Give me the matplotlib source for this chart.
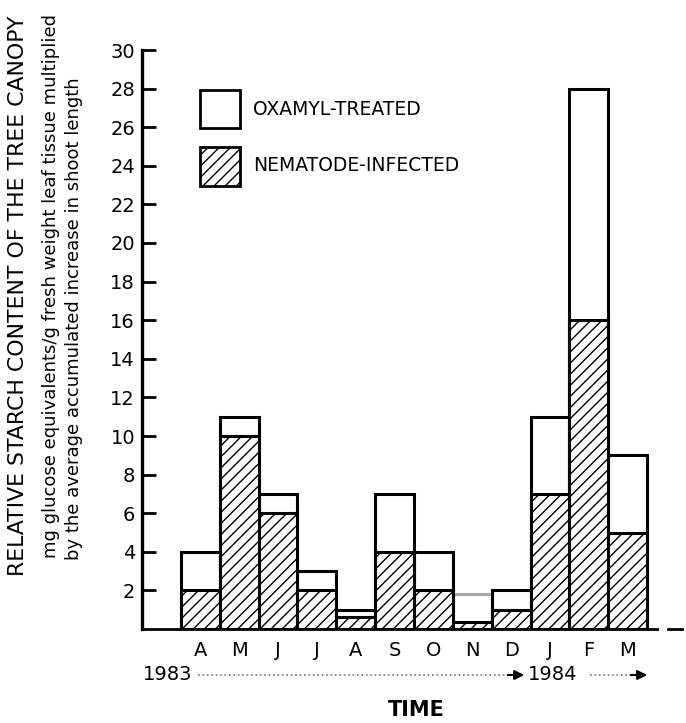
import numpy as np
import matplotlib.pyplot as plt
from matplotlib.patches import Rectangle
from matplotlib.lines import Line2D

plt.rcParams['font.family'] = ['DejaVu Sans']
plt.rcParams['hatch.linewidth'] = 1.0

# данные
months = ['A', 'M', 'J', 'J', 'A', 'S', 'O', 'N', 'D', 'J', 'F', 'M']
oxamyl = [4, 11, 7, 3, 1, 7, 4, 1.8, 2, 11, 28, 9]
nematode = [2, 10, 6, 2, 0.6, 4, 2, 0.35, 1, 7, 16, 5]
yticks = list(range(2, 31, 2))

W, H = 686, 723
fig = plt.figure(figsize=(W / 100, H / 100), dpi=100)
ax = fig.add_axes([142 / W, 1 - 629 / H, 544 / W, 579 / H])

x = np.arange(len(months))
edge = ['black'] * len(months)
edge[7] = '0.65'
ax.bar(x, oxamyl, width=1.0, align='edge', color='white',
       edgecolor=edge, linewidth=2.2, zorder=2)
ax.bar(x, nematode, width=1.0, align='edge', color='white',
       edgecolor='black', hatch='///', linewidth=2.2, zorder=3)

ax.set_xlim(-1, 13)
ax.set_ylim(0, 30)

for s in ['top', 'right', 'bottom']:
    ax.spines[s].set_visible(False)
ax.spines['left'].set_linewidth(2.4)

# базовая линия
ax.plot([-1, 12.26], [0, 0], color='black', lw=2.0, zorder=4, clip_on=False)
ax.plot([12.54, 12.9], [0, 0], color='black', lw=2.0, zorder=4, clip_on=False)

ax.set_yticks(yticks)
ax.set_yticklabels([str(v) for v in yticks], fontsize=14)
ax.tick_params(axis='y', direction='in', length=10, width=2.0, pad=5)

ax.set_xticks(x + 0.5)
ax.set_xticklabels(months, fontsize=14)
ax.tick_params(axis='x', length=0, pad=9)

# легенда
ax.add_patch(Rectangle((0.49, 25.96), 1.03, 1.95, facecolor='white',
                       edgecolor='black', lw=2.0, zorder=5))
ax.add_patch(Rectangle((0.49, 22.95), 1.03, 2.05, facecolor='white',
                       edgecolor='black', lw=2.0, hatch='///', zorder=5))
ax.text(1.85, 26.9, 'OXAMYL-TREATED', fontsize=13.5, va='center', ha='left')
ax.text(1.85, 24.0, 'NEMATODE-INFECTED', fontsize=13.5, va='center', ha='left')

# подписи оси Y
fig.text(18 / W, 1 - 296 / H, 'RELATIVE STARCH CONTENT OF THE TREE CANOPY',
         rotation=90, fontsize=15.8, ha='center', va='center')
fig.text(51 / W, 1 - 286 / H,
         'mg glucose equivalents/g fresh weight leaf tissue multiplied',
         rotation=90, fontsize=13, ha='center', va='center')
fig.text(74 / W, 1 - 319 / H,
         'by the average accumulated increase in shoot length',
         rotation=90, fontsize=13, ha='center', va='center')

# годы
yy = 1 - 675 / H
fig.text(168 / W, yy, '1983', fontsize=14, ha='center', va='center')
fig.text(553 / W, yy, '1984', fontsize=14, ha='center', va='center')
fig.add_artist(Line2D([198 / W, 515 / W], [yy, yy], color='0.45', lw=1.2,
                      ls=':', transform=fig.transFigure))
fig.add_artist(Line2D([590 / W, 638 / W], [yy, yy], color='0.45', lw=1.2,
                      ls=':', transform=fig.transFigure))
for x0, x1 in [(505, 527), (628, 650)]:
    fig.add_artist(plt.Annotation('', xy=(x1 / W, yy), xytext=(x0 / W, yy),
                                  xycoords='figure fraction',
                                  arrowprops=dict(arrowstyle='-|>', color='black',
                                                  lw=1.5, mutation_scale=14)))

fig.text(416 / W, 1 - 710 / H, 'TIME', fontsize=15, fontweight='bold',
         ha='center', va='center')

fig.savefig('out.png', dpi=100)
